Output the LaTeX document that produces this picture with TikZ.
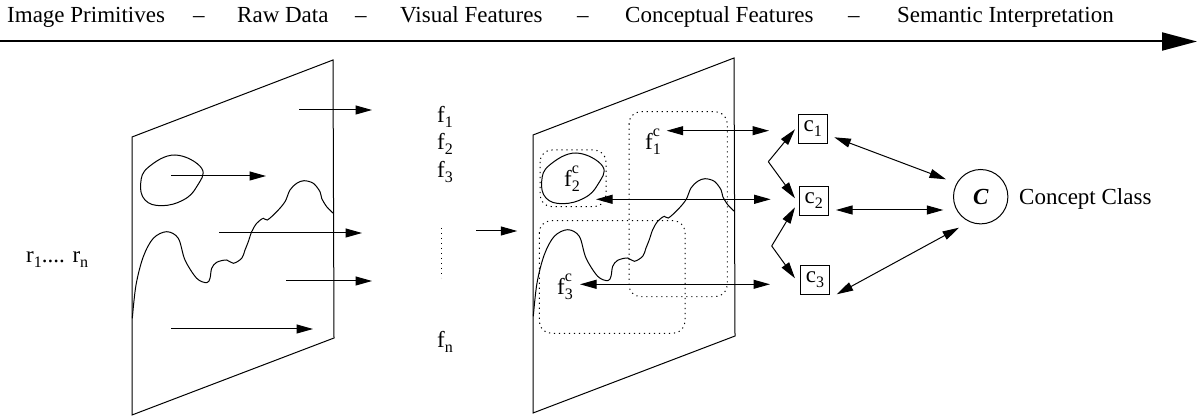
\documentclass[tikz,border=0pt]{standalone}
\usepackage{fontspec}
\setmainfont{Liberation Serif}
\usetikzlibrary{arrows.meta}

% small raised / lowered indices set in text font
\newcommand\lowidx[1]{\raisebox{-5pt}{\fontsize{16}{16}\selectfont #1}}
\newcommand\hiidx[2]{\rlap{\raisebox{13pt}{\fontsize{16}{16}\selectfont #1}}\raisebox{-5pt}{\fontsize{16}{16}\selectfont #2}}

\tikzset{
  every node/.style={font=\fontsize{23}{27}\selectfont, inner sep=0pt},
  plane/.style={line width=1pt},
  flow/.style={line width=1pt, -{Triangle[length=16.5pt,width=9pt]}},
  link/.style={line width=1pt, {Triangle[length=16.5pt,width=9pt]}-{Triangle[length=16.5pt,width=9pt]}},
  region/.style={line width=1pt, dash pattern=on 1.2pt off 3.8pt, rounded corners=12pt},
  conceptbox/.style={draw, line width=1pt, minimum width=29pt, minimum height=29pt},
  header/.style={anchor=base west},
}

% image plane with a closed region and a contour line
\newcommand\featureplane{%
  \draw[plane] (132,137) -- (333,60) -- (334,338) -- (132,415) -- cycle;
  \draw[plane] plot[smooth cycle, tension=0.7] coordinates {
    (175,155) (201.7,168.3) (196.7,186.7) (183.3,200) (161.7,205.7)
    (145,200) (140.7,183.3) (148.3,167.3)};
  \draw[plane] plot[smooth, tension=0.55] coordinates {
    (132.3,318.3) (136,285) (143.3,256.7) (153.3,238.3) (166.7,231.7)
    (178.3,238.3) (185,260) (196.7,278.3) (206.7,282.7) (210,278.3)
    (211.7,268.3) (216.7,262.3) (226.7,260) (233.3,263.3) (241.7,258.3)
    (245,250) (248.3,241.7) (251.7,231.7) (256.7,223.3) (263.3,218.3)
    (267.3,220) (276.7,211.7) (285,201.7) (290,190) (296.7,183.3)
    (304,180.7) (313.3,183.3) (320,191.7) (321.7,198.3) (326.7,206.7)
    (333.3,213.3)};
}

\begin{document}
\begin{tikzpicture}[x=1pt, y=-1pt]
\useasboundingbox (0,0) rectangle (1202,419);

% processing stages along the top axis
\node[header] (h1) at (7,23)   {Image Primitives};
\node[header] (d1) at (193,23) {–};
\node[header] (h2) at (237,23) {Raw Data};
\node[header] (d2) at (355,23) {–};
\node[header] (h3) at (400,23) {Visual Features};
\node[header] (d3) at (577,23) {–};
\node[header] (h4) at (625,23) {Conceptual Features};
\node[header] (d4) at (848,23) {–};
\node[header] (h5) at (897,23) {Semantic Interpretation};
\coordinate (axisL) at (0,41.5);
\coordinate (axisR) at (1197,41.5);
\draw[line width=2pt, -{Triangle[length=35pt,width=18pt]}] (axisL) -- (axisR);

% first plane: raw regions
\featureplane
\node[anchor=base west] (regions) at (26,263) {r\lowidx{1}.... r\lowidx{n}};
\coordinate (a1s) at (299,110); \coordinate (a1e) at (372,110);
\coordinate (a2s) at (171,176); \coordinate (a2e) at (266,176);
\coordinate (a3s) at (219,233); \coordinate (a3e) at (362,233);
\coordinate (a4s) at (286,281); \coordinate (a4e) at (372,281);
\coordinate (a5s) at (171,329); \coordinate (a5e) at (313,329);
\foreach \k in {1,...,5} \draw[flow] (a\k s) -- (a\k e);

% extracted feature list
\node[anchor=base west] (f1) at (437,123) {f\lowidx{1}};
\node[anchor=base west] (f2) at (437,150) {f\lowidx{2}};
\node[anchor=base west] (f3) at (437,178) {f\lowidx{3}};
\node[anchor=base west] (fn) at (437,348) {f\lowidx{n}};
\coordinate (dotsT) at (441.7,228); \coordinate (dotsB) at (441.7,278);
\draw[line width=1pt, dash pattern=on 1.2pt off 3.8pt] (dotsT) -- (dotsB);
\coordinate (midS) at (476,231); \coordinate (midE) at (517.3,231);
\draw[flow] (midS) -- (midE);

% second plane: conceptual feature regions
\begin{scope}[shift={(401,-2)}]
  \featureplane
\end{scope}
\draw[region] (629,111.7) rectangle (727.3,296.7);
\draw[region] (540,150) rectangle (606,206.7);
\draw[region] (539.3,220.7) rectangle (685,333.3);
\node[anchor=base west] (fc1) at (645,150) {f\hiidx{c}{1}};
\node[anchor=base west] (fc2) at (564,187) {f\hiidx{c}{2}};
\node[anchor=base west] (fc3) at (557,295) {f\hiidx{c}{3}};

\coordinate (l1s) at (666.7,130.7); \coordinate (l1e) at (769,130.7);
\coordinate (l2s) at (596,199.3);   \coordinate (l2e) at (770.7,199.3);
\coordinate (l3s) at (580,284.3);   \coordinate (l3e) at (770,284.3);
\draw[link] (l1s) -- (l1e);
\draw[link] (l2s) -- (l2e);
\draw[link] (l3s) -- (l3e);

% concepts
\node[conceptbox] (c1) at (812.8,128.8) {c\lowidx{1}};
\node[conceptbox] (c2) at (813.8,200.9) {c\lowidx{2}};
\node[conceptbox] (c3) at (815,279.9)   {c\lowidx{3}};

\coordinate (fork1) at (768.3,161.7);
\coordinate (fork2) at (771.7,246);
\coordinate (t1) at (795,129.3);
\coordinate (t2a) at (795,198.3);
\coordinate (t2b) at (795,207.3);
\coordinate (t3) at (795,278.3);
\draw[flow] (fork1) -- (t1);
\draw[flow] (fork1) -- (t2a);
\draw[flow] (fork2) -- (t2b);
\draw[flow] (fork2) -- (t3);

% concept class
\node[draw, circle, line width=1pt, minimum size=54.4pt] (C) at (980.7,196.7) {\bfseries\itshape C};
\node[anchor=base west] (cc) at (1019,205) {Concept Class};

\coordinate (k1s) at (834.3,137.3); \coordinate (k1e) at (946,179.3);
\coordinate (k2s) at (836,210);     \coordinate (k2e) at (943.3,210);
\coordinate (k3s) at (836.7,294.3); \coordinate (k3e) at (959,227.7);
\draw[link] (k1s) -- (k1e);
\draw[link] (k2s) -- (k2e);
\draw[link] (k3s) -- (k3e);
\end{tikzpicture}
\end{document}
